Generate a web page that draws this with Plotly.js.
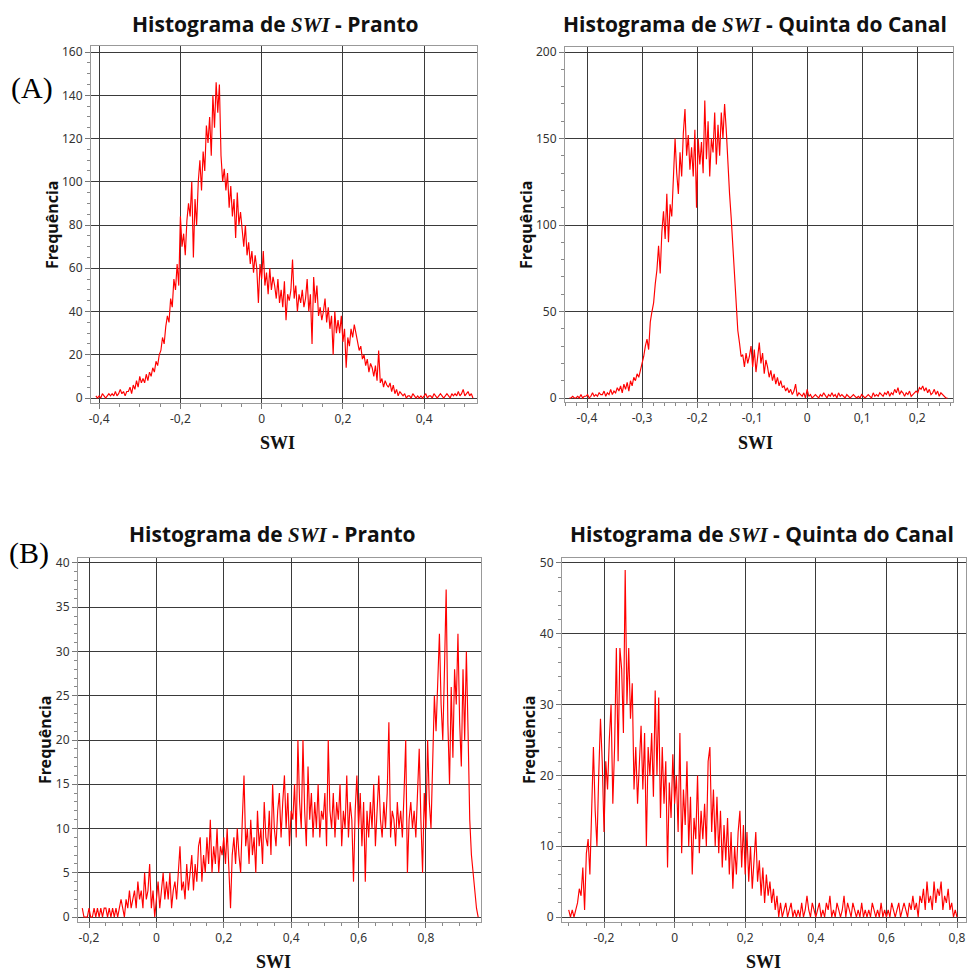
<!DOCTYPE html>
<html>
<head>
<meta charset="utf-8">
<script src="https://cdn.plot.ly/plotly-3.0.1.min.js"></script>
<style>
  html, body { margin: 0; padding: 0; background: #ffffff; }
  #chart { width: 967px; height: 971px; }
</style>
</head>
<body>
<div id="chart"></div>
<script>
// SWI histograms: frequency per bin, bins laid out from a start value and a bin width.

// (A) Pranto
const prantoA_start = -0.408;
const prantoA_step = 0.004;
const prantoA_freq = [
  1,0,1,0,2,1,0,1,2,1,
  2,1,3,1,2,4,2,3,1,3,
  3,5,2,6,4,8,5,10,7,9,
  7,11,8,12,10,14,12,17,15,20,
  22,28,25,33,38,35,46,42,55,50,
  62,52,84,70,76,66,82,90,84,100,
  65,92,80,100,110,96,114,105,126,118,
  130,112,140,125,146,132,145,112,100,106,
  96,104,88,98,84,92,74,95,80,86,
  76,70,80,66,72,62,68,58,66,60,
  44,62,55,68,52,58,48,60,50,56,
  52,46,55,44,50,42,54,36,48,45,
  50,64,46,52,40,48,44,50,42,46,
  55,40,48,25,56,44,52,38,42,36,
  40,46,35,42,32,38,20,40,30,36,
  30,38,26,32,14,28,24,32,28,34,
  30,26,22,24,18,20,15,18,12,16,
  14,10,15,8,22,7,9,5,8,6,
  5,7,3,6,2,4,1,3,2,1,
  2,0,1,1,0,2,1,0,1,0,
  1,0,1,2,0,1,1,0,2,1,
  0,1,2,1,0,1,2,1,0,2,
  1,2,1,3,1,2,4,1,2,3,
  1,2,0
];

// (A) Quinta do Canal
const quintaA_start = -0.432;
const quintaA_step = 0.003;
const quintaA_freq = [
  0,0,1,0,0,1,0,2,0,1,
  1,2,0,1,3,1,2,1,3,2,
  2,4,1,3,2,5,2,4,3,6,
  4,7,3,8,5,9,4,10,7,12,
  10,14,12,16,20,24,30,34,28,44,
  50,55,66,74,88,72,96,108,92,118,
  90,112,105,125,150,130,118,142,128,153,
  167,140,152,132,145,128,155,110,150,135,
  148,130,172,138,160,128,150,142,165,135,
  158,140,165,150,170,155,135,118,104,88,
  72,52,39,32,24,25,18,26,20,24,
  30,18,28,15,22,32,20,26,14,22,
  18,12,16,10,14,8,12,7,10,6,
  7,4,6,3,5,2,4,8,1,3,
  2,1,3,0,5,1,2,0,1,2,
  1,0,2,1,3,1,0,2,1,3,
  1,2,0,3,1,2,1,0,2,1,
  0,1,2,1,0,1,0,2,1,0,
  1,2,1,0,3,1,2,1,3,2,
  1,3,2,4,1,3,2,5,3,6,
  2,4,3,1,3,2,4,1,2,3,
  4,3,6,5,7,4,6,3,5,2,
  3,5,2,4,1,3,2,1,0,0
];

// (B) Pranto
const prantoB_start = -0.22;
const prantoB_step = 0.005;
const prantoB_freq = [
  1,0,0,0,1,0,0,1,0,1,
  0,1,0,1,1,0,1,0,1,0,
  1,0,1,2,1,0,2,1,3,1,
  2,3,1,4,2,3,1,5,2,3,
  6,1,3,0,2,4,1,3,5,2,
  4,2,5,1,3,4,2,5,8,3,
  4,2,6,3,5,7,3,6,4,8,
  9,4,7,5,9,6,11,5,8,6,
  10,5,8,7,9,6,10,5,1,7,
  9,6,10,7,5,11,16,8,10,6,
  11,7,9,5,12,8,10,6,13,9,
  8,12,7,15,10,8,12,14,9,13,
  16,10,14,8,12,11,15,9,20,13,
  10,20,12,8,17,11,14,9,13,10,
  15,9,12,11,14,8,20,12,10,14,
  9,13,11,15,8,12,10,16,9,13,
  11,4,12,16,10,14,8,13,4,12,
  9,13,10,15,8,12,16,11,9,13,
  10,14,22,9,12,11,8,13,10,12,
  9,14,20,5,11,13,10,12,9,14,
  19,11,5,14,10,20,13,10,18,25,
  21,28,32,24,20,28,37,22,15,26,
  18,28,24,32,22,17,28,20,30,21,
  11,7,5,3,1,0
];

// (B) Quinta do Canal
const quintaB_start = -0.3;
const quintaB_step = 0.005;
const quintaB_freq = [
  1,0,1,0,1,2,4,3,7,1,
  9,11,6,14,24,15,10,20,28,22,
  12,22,18,25,30,16,24,38,22,38,
  35,26,49,30,38,28,33,18,24,16,
  22,27,18,26,10,24,20,26,17,32,
  20,31,14,24,16,22,7,19,14,23,
  16,20,12,26,9,18,13,22,10,17,
  6,14,11,20,9,15,11,16,10,22,
  24,12,18,10,17,9,15,7,13,8,
  14,6,12,4,10,6,12,15,7,13,
  6,12,5,10,4,9,12,5,8,3,
  7,2,6,3,5,2,4,1,3,0,
  2,0,1,2,0,1,2,0,1,0,
  1,0,2,0,1,3,1,0,2,1,
  0,1,2,0,1,0,2,1,3,0,
  1,0,2,1,0,1,3,0,2,1,
  0,2,1,0,1,0,2,0,1,0,
  1,0,2,1,0,1,0,2,0,1,
  0,1,0,2,1,0,1,2,0,1,
  2,1,0,2,1,3,1,2,0,3,
  2,4,1,5,2,3,1,5,2,4,
  3,5,1,3,2,4,1,2,0,1,
  0
];

// Tick labels (comma decimals)
const prantoA_xticks = [-0.4, -0.2, 0, 0.2, 0.4];
const prantoA_xlabels = ['-0,4', '-0,2', '0', '0,2', '0,4'];
const quintaA_xticks = [-0.4, -0.3, -0.2, -0.1, 0, 0.1, 0.2];
const quintaA_xlabels = ['-0,4', '-0,3', '-0,2', '-0,1', '0', '0,1', '0,2'];
const bPanel_xticks = [-0.2, 0, 0.2, 0.4, 0.6, 0.8];
const bPanel_xlabels = ['-0,2', '0', '0,2', '0,4', '0,6', '0,8'];

const titlePranto = 'Histograma de <span style="font-family:Liberation Serif;font-style:italic">SWI</span> - Pranto';
const titleQuinta = 'Histograma de <span style="font-family:Liberation Serif;font-style:italic">SWI</span> - Quinta do Canal';
const yTitle = 'Frequência';
const xTitle = 'SWI';

// ---- layout helpers (pixel boxes converted to paper fractions) ----
const W = 967, H = 971;
const px = v => v / W;
const py = v => 1 - v / H;

const tickFont = { family: 'Noto Sans, Open Sans, sans-serif', size: 12, color: '#333333' };

function xAxis(left, right, range, vals, labels, minorStep, anchor) {
  return {
    domain: [px(left), px(right)], range: range, anchor: anchor,
    tickmode: 'array', tickvals: vals, ticktext: labels,
    ticks: 'outside', ticklen: 5, tickcolor: '#777777', tickfont: tickFont,
    minor: { tickmode: 'linear', tick0: 0, dtick: minorStep, ticks: 'outside', ticklen: 3, tickcolor: '#888888', showgrid: false },
    showgrid: true, gridcolor: '#3a3a3a', gridwidth: 1, zeroline: false,
    showline: true, linecolor: '#999999', linewidth: 1, mirror: true,
    fixedrange: true
  };
}
function yAxis(top, bottom, range, major, minorStep, anchor) {
  return {
    domain: [py(bottom), py(top)], range: range, anchor: anchor,
    tickmode: 'linear', tick0: 0, dtick: major,
    ticks: 'outside', ticklen: 5, tickcolor: '#777777', tickfont: tickFont,
    minor: { tickmode: 'linear', tick0: 0, dtick: minorStep, ticks: 'outside', ticklen: 3, tickcolor: '#888888', showgrid: false },
    showgrid: true, gridcolor: '#3a3a3a', gridwidth: 1, zeroline: false,
    showline: true, linecolor: '#999999', linewidth: 1, mirror: true,
    fixedrange: true
  };
}

function series(start, step, values, xa, ya) {
  return {
    type: 'scatter', mode: 'lines',
    x0: start, dx: step, y: values,
    xaxis: xa, yaxis: ya,
    line: { color: '#ff0000', width: 1.15 },
    hoverinfo: 'skip', showlegend: false
  };
}

const data = [
  series(prantoA_start, prantoA_step, prantoA_freq, 'x', 'y'),
  series(quintaA_start, quintaA_step, quintaA_freq, 'x2', 'y2'),
  series(prantoB_start, prantoB_step, prantoB_freq, 'x3', 'y3'),
  series(quintaB_start, quintaB_step, quintaB_freq, 'x4', 'y4')
];

const titleFont = { family: 'Open Sans, Noto Sans, sans-serif', size: 21, color: '#111111', weight: 'bold' };
const yTitleFont = { family: 'Noto Sans, Open Sans, sans-serif', size: 16, color: '#111111', weight: 'bold' };
const xTitleFont = { family: 'Liberation Serif, serif', size: 18, color: '#111111', weight: 'bold' };
const panelFont = { family: 'Liberation Serif, serif', size: 30, color: '#000000' };

function note(text, x, y, font, angle) {
  return {
    xref: 'paper', yref: 'paper', x: px(x), y: py(y),
    xanchor: 'center', yanchor: 'middle', showarrow: false,
    text: text, font: font, textangle: angle || 0
  };
}

const layout = {
  width: W, height: H,
  margin: { l: 0, r: 0, t: 0, b: 0, pad: 0 },
  paper_bgcolor: '#ffffff', plot_bgcolor: '#ffffff',
  separators: ', ',
  showlegend: false,
  xaxis:  xAxis(91, 477, [-0.42, 0.53], prantoA_xticks, prantoA_xlabels, 0.05, 'y'),
  yaxis:  yAxis(46, 403, [-2.3, 162.8], 20, 5, 'x'),
  xaxis2: xAxis(565, 953, [-0.44, 0.265], quintaA_xticks, quintaA_xlabels, 0.02, 'y2'),
  yaxis2: yAxis(47, 402, [-2.3, 202.9], 50, 10, 'x2'),
  xaxis3: xAxis(78, 481, [-0.2327, 0.9634], bPanel_xticks, bPanel_xlabels, 0.05, 'y3'),
  yaxis3: yAxis(558, 922, [-0.56, 40.56], 5, 1, 'x3'),
  xaxis4: xAxis(562, 966, [-0.319, 0.8255], bPanel_xticks, bPanel_xlabels, 0.05, 'y4'),
  yaxis4: yAxis(558, 922, [-0.7, 50.7], 10, 2, 'x4'),
  annotations: [
    note(titlePranto, 275, 24, titleFont),
    note(titleQuinta, 755, 24, titleFont),
    note(titlePranto, 272, 534, titleFont),
    note(titleQuinta, 762, 534, titleFont),
    note('(A)', 32, 88, panelFont),
    note('(B)', 29, 553, panelFont),
    note(yTitle, 52, 225, yTitleFont, -90),
    note(yTitle, 526, 225, yTitleFont, -90),
    note(yTitle, 45, 740, yTitleFont, -90),
    note(yTitle, 529, 740, yTitleFont, -90),
    note(xTitle, 277, 443, xTitleFont),
    note(xTitle, 755, 443, xTitleFont),
    note(xTitle, 273, 962, xTitleFont),
    note(xTitle, 763, 962, xTitleFont)
  ]
};

Plotly.newPlot('chart', data, layout, { displayModeBar: false, staticPlot: true, responsive: false });
</script>
</body>
</html>
